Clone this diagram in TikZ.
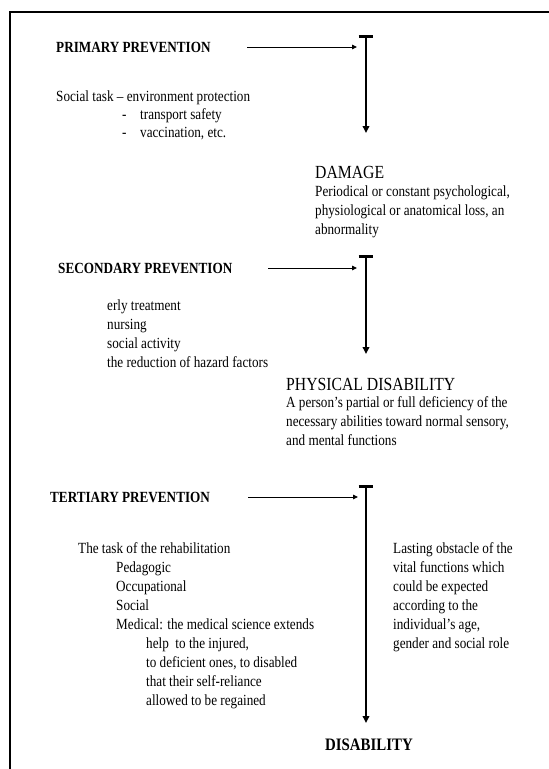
\documentclass[tikz,border=0pt]{standalone}
\usepackage{fontspec}
\setmainfont{Liberation Serif}[FakeStretch=0.85]
\usetikzlibrary{arrows.meta}
\begin{document}
\begin{tikzpicture}[x=1pt,y=-1pt,
  txt/.style={anchor=base west, inner sep=0pt, font=\fontsize{15.5}{18}\selectfont},
  head/.style={anchor=base west, inner sep=0pt, font=\fontsize{15.5}{18}\selectfont\bfseries},
  big/.style={anchor=base west, inner sep=0pt, font=\fontsize{18.5}{22}\selectfont},
  bigb/.style={anchor=base west, inner sep=0pt, font=\fontsize{17.5}{21}\selectfont\bfseries},
  feed/.style={line width=0.9pt, -{Triangle[length=5pt,width=4.5pt]}},
  flow/.style={line width=2.3pt, -{Triangle[length=7pt,width=6.5pt]}},
  tbar/.style={line width=3pt},
  frame/.style={line width=2pt}]
\useasboundingbox (0,0) rectangle (549,769);
% frame (open at right and bottom)
\coordinate (fr1) at (549,12);
\coordinate (fr2) at (9.5,12);
\coordinate (fr3) at (9.5,769);
\draw[frame] (fr1) -- (fr2) -- (fr3);

% ---------- primary ----------
\node[head] (p1) at (56,52) {PRIMARY PREVENTION};
\coordinate (a1s) at (247,47);
\coordinate (a1e) at (357,47);
\coordinate (t1) at (366,36.5);
\coordinate (t1b) at (366,133);
\coordinate (t1l) at (358.5,36.5);
\coordinate (t1r) at (372.5,36.5);
\draw[feed] (a1s) -- (a1e);
\draw[tbar] (t1l) -- (t1r);
\draw[flow] (t1) -- (t1b);
\node[txt] (s1) at (56,101) {Social task -- environment protection};
\node[txt] (d1) at (122,119) {-};
\node[txt] (s2) at (140,119) {transport safety};
\node[txt] (d2) at (122,137) {-};
\node[txt] (s3) at (140,137) {vaccination, etc.};

\node[big] (dam) at (315,178) {DAMAGE};
\node[txt] (dm1) at (315,196) {Periodical or constant psychological,};
\node[txt] (dm2) at (315,215) {physiological or anatomical loss, an};
\node[txt] (dm3) at (315,234) {abnormality};

% ---------- secondary ----------
\node[head] (p2) at (58,273) {SECONDARY PREVENTION};
\coordinate (a2s) at (268,268);
\coordinate (a2e) at (357,268);
\coordinate (t2) at (366,256);
\coordinate (t2b) at (366,354);
\coordinate (t2l) at (358.5,256);
\coordinate (t2r) at (372.5,256);
\draw[feed] (a2s) -- (a2e);
\draw[tbar] (t2l) -- (t2r);
\draw[flow] (t2) -- (t2b);
\node[txt] (e1) at (107,310) {erly treatment};
\node[txt] (e2) at (107,329) {nursing};
\node[txt] (e3) at (107,348) {social activity};
\node[txt] (e4) at (107,367) {the reduction of hazard factors};

\node[big] (phd) at (286,390) {PHYSICAL DISABILITY};
\node[txt] (ph1) at (286,407) {A person’s partial or full deficiency of the};
\node[txt] (ph2) at (286,426) {necessary abilities toward normal sensory,};
\node[txt] (ph3) at (286,445) {and mental functions};

% ---------- tertiary ----------
\node[head] (p3) at (50,502) {TERTIARY PREVENTION};
\coordinate (a3s) at (248,497);
\coordinate (a3e) at (358,497);
\coordinate (t3) at (366,486);
\coordinate (t3b) at (366,723);
\coordinate (t3l) at (358.5,486);
\coordinate (t3r) at (372.5,486);
\draw[feed] (a3s) -- (a3e);
\draw[tbar] (t3l) -- (t3r);
\draw[flow] (t3) -- (t3b);
\node[txt] (r0) at (78,553) {The task of the rehabilitation};
\node[txt] (r1) at (116,572) {Pedagogic};
\node[txt] (r2) at (116,591) {Occupational};
\node[txt] (r3) at (116,610) {Social};
\node[txt] (r4) at (116,629) {Medical: the medical science extends};
\node[txt] (r5) at (146,648) {help\ \ to the injured,};
\node[txt] (r6) at (146,667) {to deficient ones, to disabled};
\node[txt] (r7) at (146,686) {that their self-reliance};
\node[txt] (r8) at (146,705) {allowed to be regained};

\node[txt] (l1) at (393,553) {Lasting obstacle of the};
\node[txt] (l2) at (393,572) {vital functions which};
\node[txt] (l3) at (393,591) {could be expected};
\node[txt] (l4) at (393,610) {according to the};
\node[txt] (l5) at (393,629) {individual’s age,};
\node[txt] (l6) at (393,648) {gender and social role};

\node[bigb] (dis) at (325,750) {DISABILITY};
\end{tikzpicture}
\end{document}
